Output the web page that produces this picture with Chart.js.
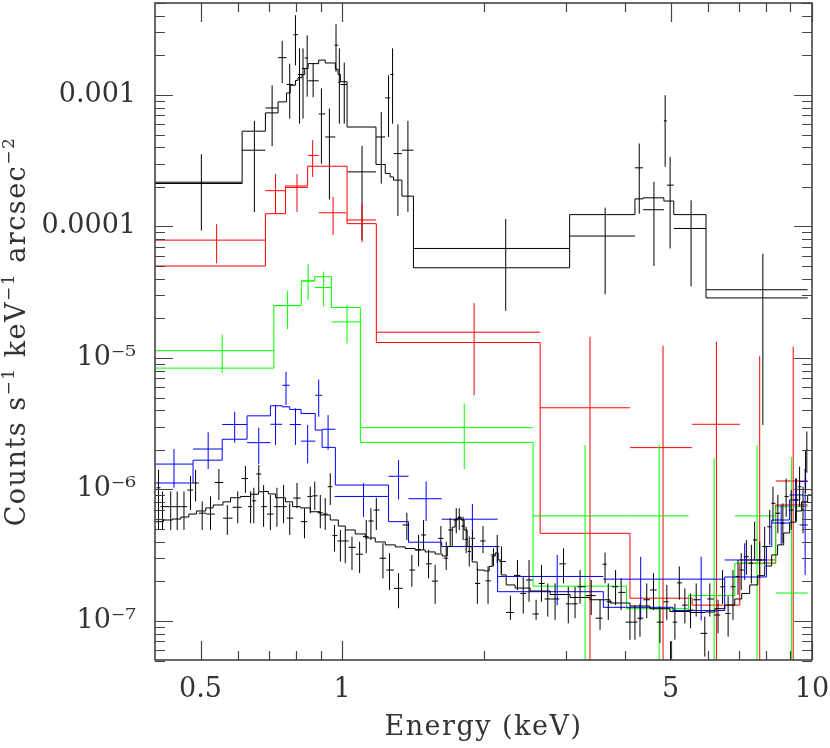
<!DOCTYPE html>
<html>
<head>
<meta charset="utf-8">
<title>Spectrum</title>
<script src="https://cdn.jsdelivr.net/npm/chart.js@4.4.0/dist/chart.umd.min.js"></script>
<style>
  html, body { margin: 0; padding: 0; background: #fff; }
</style>
</head>
<body>
<canvas id="spec" width="830" height="748"></canvas>
<script>
// ---- axis ticks ----
const xMajor = [0.5, 1, 5, 10];
const xMajorText = ['0.5', '1', '5', '10'];
const xMinor = [0.6, 0.7, 0.8, 0.9, 2, 3, 4, 6, 7, 8, 9];
const yMajor = [1e-7, 1e-6, 1e-5, 1e-4, 1e-3];
const yMajorText = ['10\u207B\u2077', '10\u207B\u2076', '10\u207B\u2075', '0.0001', '0.001'];

// ---- bright source, black ----
const blkE = [0.502, 0.651, 0.710, 0.746, 0.774, 0.796, 0.812, 0.826, 0.843, 0.868, 0.904, 0.940, 0.971, 0.987, 1.011, 1.103, 1.212, 1.256, 1.281, 1.315, 1.381, 2.23, 3.63, 4.29, 4.61, 4.87, 4.99, 5.53, 7.86];
const blkELo = [0.37, 0.612, 0.687, 0.731, 0.762, 0.788, 0.806, 0.822, 0.833, 0.847, 0.892, 0.921, 0.964, 0.981, 0.992, 1.025, 1.181, 1.236, 1.266, 1.287, 1.341, 1.415, 3.05, 4.2, 4.37, 4.84, 4.91, 5.08, 5.95];
const blkEHi = [0.612, 0.687, 0.731, 0.762, 0.788, 0.806, 0.822, 0.833, 0.847, 0.892, 0.921, 0.968, 0.981, 0.992, 1.025, 1.181, 1.236, 1.266, 1.287, 1.341, 1.419, 3.05, 4.2, 4.37, 4.84, 4.91, 5.08, 5.95, 9.79];
const blkY = [2.17e-4, 3.8e-4, 7.96e-4, 1.92e-3, 1.2e-3, 2.87e-3, 1.43e-3, 1.59e-3, 1.91e-3, 1.28e-3, 7.17e-4, 4.79e-4, 2.39e-3, 1.25e-3, 1.2e-3, 2.6e-4, 4.79e-4, 9.5e-4, 1.43e-3, 3.58e-4, 3.8e-4, 6.8e-5, 8.45e-5, 2.79e-4, 1.34e-4, 6.35e-4, 2.06e-4, 9.65e-5, 3.3e-5];
const blkYHi = [3.54e-4, 6.35e-4, 1.185e-3, 2.58e-3, 1.73e-3, 4.04e-3, 2.26e-3, 2.26e-3, 2.84e-3, 1.74e-3, 1.12e-3, 7.87e-4, 3.45e-3, 2.26e-3, 1.76e-3, 4.1e-4, 7.42e-4, 1.41e-3, 2.26e-3, 5.96e-4, 6.35e-4, 1.14e-4, 1.39e-4, 4.27e-4, 2.18e-4, 9.95e-4, 3.38e-4, 1.58e-4, 6.2e-5];
const blkYLo = [9.3e-5, 1.29e-4, 4.07e-4, 1.23e-3, 6.6e-4, 1.68e-3, 6.05e-4, 6.6e-4, 9.7e-4, 9.6e-4, 3.0e-4, 1.6e-4, 1.5e-3, 6.05e-4, 6.05e-4, 7.87e-5, 2.12e-4, 4.79e-4, 6.05e-4, 1.2e-4, 1.29e-4, 2.28e-5, 3.05e-5, 1.25e-4, 5.0e-5, 2.84e-4, 6.8e-5, 3.5e-5, 3.09e-6];
const blkModelE = [0.38, 0.613, 0.687, 0.731, 0.762, 0.776, 0.796, 0.806, 0.822, 0.833, 0.847, 0.892, 0.921, 0.968, 0.981, 0.992, 1.025, 1.181, 1.236, 1.266, 1.287, 1.341, 1.419, 3.05, 4.2, 4.37, 4.84, 5.08, 5.95, 9.79];
const blkModelY = [2.12e-4, 5.3e-4, 7.3e-4, 8.85e-4, 1.035e-3, 1.185e-3, 1.29e-3, 1.35e-3, 1.43e-3, 1.59e-3, 1.73e-3, 1.84e-3, 1.75e-3, 1.57e-3, 1.43e-3, 1.26e-3, 5.7e-4, 2.96e-4, 2.53e-4, 2.38e-4, 2.25e-4, 1.70e-4, 4.85e-5, 1.23e-4, 1.62e-4, 1.65e-4, 1.56e-4, 1.23e-4, 2.86e-5];

// ---- red ----
const redE = [0.541, 0.722, 0.802, 0.866, 0.957, 1.103, 1.91, 3.37, 4.82, 6.26, 7.74, 9.12];
const redELo = [0.37, 0.687, 0.758, 0.847, 0.892, 1.021, 1.183, 2.64, 4.099, 5.56, 7.02, 8.37];
const redEHi = [0.687, 0.758, 0.847, 0.892, 1.021, 1.181, 2.64, 4.099, 5.56, 7.02, 8.37, 9.79];
const redY = [7.87e-5, 1.87e-4, 1.98e-4, 3.47e-4, 1.27e-4, 1.12e-4, 1.57e-5, 4.18e-6, 2.08e-6, 3.13e-6, 2.91e-7, 1.16e-6];
const redYHi = [1.04e-4, 2.5e-4, 2.5e-4, 4.53e-4, 1.68e-4, 1.5e-4, 2.61e-5, 1.45e-5, 1.24e-5, 1.33e-5, 1.03e-5, 1.22e-5];
const redYLo = [5.25e-5, 1.25e-4, 1.29e-4, 2.38e-4, 8.6e-5, 7.6e-5, 5.2e-6, 1e-9, 1e-9, 1e-9, 1e-9, 1e-9];
const redModelE = [0.38, 0.687, 0.758, 0.845, 1.025, 1.183, 2.64, 4.099, 5.56, 7.02, 8.37, 9.79];
const redModelY = [5.0e-5, 1.25e-4, 2.03e-4, 2.87e-4, 1.05e-4, 1.31e-5, 4.64e-7, 1.49e-7, 1.32e-7, 2.75e-7, 7.62e-7];

// ---- green ----
const grnE = [0.556, 0.766, 0.847, 0.914, 1.025, 1.82, 3.29, 4.73, 6.19, 7.64, 9.05];
const grnELo = [0.37, 0.716, 0.819, 0.875, 0.949, 1.097, 2.55, 4.03, 5.46, 6.85, 8.37];
const grnEHi = [0.716, 0.819, 0.875, 0.949, 1.094, 2.55, 4.03, 5.46, 6.85, 8.37, 9.79];
const grnY = [1.135e-5, 2.5e-5, 3.85e-5, 3.43e-5, 1.88e-5, 2.95e-6, 6.3e-7, 6.3e-7, 3e-8, 6.3e-7, 1.63e-7];
const grnYHi = [1.51e-5, 3.25e-5, 5.15e-5, 4.53e-5, 2.52e-5, 4.5e-6, 2.18e-6, 2.18e-6, 1.72e-6, 2.18e-6, 1.76e-6];
const grnYLo = [7.7e-6, 1.66e-5, 2.75e-5, 2.46e-5, 1.29e-5, 1.43e-6, 1e-9, 1e-9, 1e-9, 1e-9, 1e-9];
const grnModelE = [0.38, 0.716, 0.819, 0.875, 0.949, 1.094, 2.55, 4.03, 5.46, 6.85, 8.37, 9.79];
const grnModelY = [8.37e-6, 2.5e-5, 3.85e-5, 4.15e-5, 2.42e-5, 2.28e-6, 1.84e-7, 1.24e-7, 1.56e-7, 2.75e-7, 7.4e-7];

// ---- blue ----
const bluE = [0.439, 0.519, 0.591, 0.665, 0.722, 0.760, 0.796, 0.845, 0.892, 0.934, 1.111, 1.319, 1.51, 1.894, 2.87, 4.32, 5.81, 7.19, 8.60, 9.23, 9.67];
const bluELo = [0.37, 0.482, 0.556, 0.628, 0.704, 0.746, 0.774, 0.818, 0.877, 0.907, 0.964, 1.256, 1.385, 1.630, 2.143, 3.598, 5.06, 6.52, 8.21, 8.96, 9.41];
const bluEHi = [0.482, 0.556, 0.628, 0.704, 0.746, 0.774, 0.818, 0.877, 0.907, 0.968, 1.256, 1.385, 1.630, 2.143, 3.598, 5.06, 6.52, 8.0, 8.96, 9.55, 9.79];
const bluY = [1.56e-6, 2.03e-6, 3.12e-6, 2.27e-6, 3.13e-6, 6.2e-6, 3.12e-6, 2.33e-6, 5.2e-6, 2.87e-6, 8.85e-7, 1.26e-6, 8.5e-7, 5.94e-7, 2.18e-7, 2.08e-7, 2.08e-7, 2.91e-7, 5.56e-7, 9.08e-7, 5.37e-7];
const bluYHi = [2.03e-6, 2.72e-6, 3.9e-6, 2.95e-6, 4.39e-6, 7.85e-6, 4.14e-6, 3.09e-6, 6.85e-6, 3.68e-6, 1.12e-6, 1.67e-6, 1.15e-6, 7.76e-7, 3.18e-7, 3.08e-7, 3.08e-7, 3.9e-7, 7.62e-7, 1.22e-6, 1.41e-6];
const bluYLo = [1.03e-6, 1.43e-6, 2.27e-6, 1.56e-6, 2.18e-6, 4.39e-6, 2.18e-6, 1.58e-6, 3.57e-6, 2.0e-6, 6.2e-7, 8.4e-7, 5.76e-7, 3.47e-7, 1.32e-7, 1.02e-7, 1.01e-7, 2.05e-7, 3.79e-7, 5.86e-7, 2.24e-7];
const bluModelE = [0.38, 0.482, 0.556, 0.628, 0.704, 0.746, 0.774, 0.818, 0.877, 0.907, 0.968, 1.256, 1.385, 1.630, 2.143, 3.598, 5.06, 6.52, 8.0, 8.21, 8.96, 9.41, 9.79];
const bluModelY = [1.12e-6, 1.67e-6, 2.41e-6, 3.63e-6, 4.33e-6, 4.25e-6, 4.06e-6, 3.78e-6, 2.83e-6, 2.09e-6, 1.08e-6, 5.69e-7, 3.97e-7, 3.68e-7, 1.67e-7, 1.27e-7, 1.2e-7, 2.16e-7, 3.68e-7, 5.86e-7, 8.32e-7, 1.15e-6];

// ---- faint, finely binned black spectrum ----
const fntE = [0.407, 0.415, 0.432, 0.446, 0.461, 0.476, 0.488, 0.504, 0.525, 0.547,
  0.570, 0.600, 0.623, 0.639, 0.649, 0.665, 0.681, 0.704, 0.727, 0.751,
  0.774, 0.802, 0.832, 0.856, 0.875, 0.899, 0.921, 0.944, 0.964, 0.992,
  1.016, 1.05, 1.09, 1.126, 1.152, 1.183, 1.222, 1.262, 1.319, 1.374,
  1.408, 1.455, 1.491, 1.528, 1.578, 1.623, 1.666, 1.699, 1.75, 1.776,
  1.81, 1.837, 1.865, 1.895, 1.941, 1.995, 2.045, 2.1, 2.139, 2.184,
  2.282, 2.362, 2.43, 2.5, 2.588, 2.657, 2.74, 2.84, 2.96, 3.03,
  3.132, 3.21, 3.39, 3.54, 3.628, 3.686, 3.82, 3.925, 4.099, 4.2,
  4.305, 4.45, 4.6, 4.747, 4.91, 5.0, 5.108, 5.22, 5.364, 5.515,
  5.67, 5.915, 6.061, 6.31, 6.45, 6.63, 6.79, 6.96, 7.07, 7.25,
  7.43, 7.55, 7.74, 7.93, 8.13, 8.26, 8.46, 8.67, 8.81, 9.03,
  9.26, 9.41, 9.57, 9.69, 9.75];
const fntY = [1.03e-6, 7.4e-7, 7.4e-7, 7.4e-7, 7.4e-7, 9.9e-7, 1.12e-6, 6.6e-7, 6.5e-7, 1.13e-6,
  6.05e-7, 7.32e-7, 1.21e-6, 7.4e-7, 8.2e-7, 1.31e-6, 7.4e-7, 6.5e-7, 7.4e-7, 7.4e-7,
  6.05e-7, 8.6e-7, 5.69e-7, 8.85e-7, 8.95e-7, 6.66e-7, 6.5e-7, 1.05e-6, 4.46e-7, 4.06e-7,
  4.06e-7, 3.63e-7, 3.22e-7, 4.38e-7, 5.76e-7, 6.98e-7, 3.0e-7, 2.44e-7, 1.77e-7, 5.37e-7,
  2.44e-7, 3.47e-7, 4.51e-7, 2.72e-7, 2.01e-7, 4.25e-7, 3.0e-7, 4.92e-7, 5.86e-7, 6.05e-7,
  5.27e-7, 4.18e-7, 3.37e-7, 4.25e-7, 1.93e-7, 4.06e-7, 2.02e-7, 3.18e-7, 3.68e-7, 2.83e-7,
  1.16e-7, 2.22e-7, 1.62e-7, 2.05e-7, 1.13e-7, 1.93e-7, 1.47e-7, 1.47e-7, 2.72e-7, 1.35e-7,
  1.35e-7, 1.82e-7, 1.56e-7, 1.05e-7, 2.7e-7, 1.4e-7, 1.82e-7, 1.65e-7, 9.8e-8, 9.8e-8,
  1.05e-7, 1.45e-7, 1.72e-7, 9.8e-8, 1.4e-7, 4.2e-8, 9.8e-8, 1.95e-7, 1.32e-7, 1.21e-7,
  1.45e-7, 8.05e-8, 1.47e-7, 1.11e-7, 1.82e-7, 1.14e-7, 1.82e-7, 2.18e-7, 2.44e-7, 3.08e-7,
  2.75e-7, 4.13e-7, 2.91e-7, 3.68e-7, 5.2e-7, 7.85e-7, 6.6e-7, 5.53e-7, 8.85e-7, 6.98e-7,
  8.32e-7, 1.05e-6, 6.98e-7, 1.41e-6, 2.0e-6];
const fntYHi = [1.41e-6, 9.66e-7, 9.66e-7, 9.66e-7, 9.66e-7, 1.27e-6, 1.41e-6, 8.1e-7, 8.85e-7, 1.43e-6,
  7.62e-7, 9.66e-7, 1.51e-6, 9.66e-7, 1.03e-6, 1.535e-6, 1.08e-6, 9.08e-7, 1.03e-6, 1.08e-6,
  7.85e-7, 1.12e-6, 7.2e-7, 1.05e-6, 1.15e-6, 9.08e-7, 8.6e-7, 1.33e-6, 5.37e-7, 4.92e-7,
  4.92e-7, 4.38e-7, 4.01e-7, 5.86e-7, 7.2e-7, 8.65e-7, 3.9e-7, 3.28e-7, 2.31e-7, 6.66e-7,
  3.18e-7, 4.51e-7, 5.86e-7, 3.47e-7, 2.67e-7, 5.27e-7, 4.01e-7, 6.05e-7, 7.2e-7, 7.2e-7,
  6.2e-7, 5.2e-7, 4.38e-7, 4.92e-7, 2.52e-7, 5.27e-7, 2.6e-7, 3.57e-7, 4.51e-7, 3.68e-7,
  1.56e-7, 2.91e-7, 2.18e-7, 2.91e-7, 1.45e-7, 2.67e-7, 1.93e-7, 1.93e-7, 3.57e-7, 1.82e-7,
  1.82e-7, 2.44e-7, 2.05e-7, 1.45e-7, 3.31e-7, 1.93e-7, 2.44e-7, 2.11e-7, 1.29e-7, 1.32e-7,
  1.35e-7, 1.93e-7, 2.31e-7, 1.29e-7, 1.88e-7, 7.0e-8, 1.35e-7, 2.6e-7, 1.77e-7, 1.62e-7,
  1.93e-7, 1.08e-7, 1.93e-7, 1.45e-7, 2.44e-7, 1.54e-7, 2.44e-7, 2.91e-7, 3.28e-7, 4.13e-7,
  3.79e-7, 5.69e-7, 4.01e-7, 5.2e-7, 6.98e-7, 1.05e-6, 9.08e-7, 7.85e-7, 1.21e-6, 9.9e-7,
  1.21e-6, 1.49e-6, 1.05e-6, 2.0e-6, 2.76e-6];
const fntYLo = [4.92e-7, 4.92e-7, 4.92e-7, 4.92e-7, 4.92e-7, 6.98e-7, 8.1e-7, 4.92e-7, 4.92e-7, 8.32e-7,
  4.51e-7, 5.53e-7, 9.4e-7, 5.53e-7, 5.53e-7, 9.66e-7, 5.2e-7, 4.92e-7, 5.2e-7, 5.53e-7,
  4.51e-7, 7.2e-7, 4.25e-7, 6.6e-7, 6.98e-7, 5.06e-7, 4.92e-7, 7.62e-7, 3.37e-7, 2.83e-7,
  2.75e-7, 2.44e-7, 2.31e-7, 3.28e-7, 4.13e-7, 4.92e-7, 2.11e-7, 1.72e-7, 1.25e-7, 4.13e-7,
  1.82e-7, 2.6e-7, 3.47e-7, 2.11e-7, 1.35e-7, 3.28e-7, 2.44e-7, 3.68e-7, 4.64e-7, 4.92e-7,
  4.13e-7, 3.28e-7, 2.6e-7, 2.91e-7, 1.35e-7, 3.28e-7, 1.35e-7, 2.6e-7, 2.75e-7, 2.31e-7,
  1.02e-7, 1.72e-7, 1.14e-7, 1.4e-7, 1.02e-7, 1.4e-7, 1.08e-7, 1.02e-7, 1.93e-7, 9.6e-8,
  1.05e-7, 1.35e-7, 1.11e-7, 8.55e-8, 1.93e-7, 1.02e-7, 1.32e-7, 1.21e-7, 7.2e-8, 7.2e-8,
  7.6e-8, 1.05e-7, 1.21e-7, 6.8e-8, 1.02e-7, 2.5e-8, 7.2e-8, 1.45e-7, 9.6e-8, 8.8e-8,
  1.08e-7, 5.36e-8, 1.08e-7, 8.05e-8, 1.35e-7, 7.6e-8, 1.02e-7, 1.58e-7, 1.72e-7, 2.24e-7,
  1.93e-7, 2.91e-7, 2.11e-7, 2.67e-7, 3.79e-7, 5.69e-7, 4.64e-7, 3.9e-7, 6.2e-7, 4.92e-7,
  5.69e-7, 7.4e-7, 4.64e-7, 9.4e-7, 1.34e-6];
const fntModelE = [0.38, 0.417, 0.436, 0.454, 0.472, 0.490, 0.513, 0.532, 0.558, 0.579,
  0.608, 0.639, 0.664, 0.677, 0.697, 0.722, 0.758, 0.785, 0.815, 0.856,
  0.899, 0.944, 0.982, 1.016, 1.067, 1.121, 1.177, 1.236, 1.298, 1.363,
  1.431, 1.503, 1.578, 1.634, 1.675, 1.716, 1.741, 1.767, 1.793, 1.819,
  1.846, 1.892, 1.939, 2.007, 2.056, 2.087, 2.118, 2.149, 2.181, 2.235,
  2.335, 2.513, 2.772, 3.057, 3.371, 3.717, 4.099, 4.520, 4.985, 5.497,
  5.915, 6.211, 6.522, 6.849, 7.088, 7.370, 7.666, 7.931, 8.207, 8.450,
  8.705, 8.962, 9.230, 9.504, 9.79, 10.0];
const fntModelY = [5.69e-7, 5.86e-7, 5.96e-7, 6.17e-7, 6.5e-7, 6.86e-7, 7.24e-7, 7.62e-7, 8.05e-7, 8.65e-7,
  8.85e-7, 9.2e-7, 9.6e-7, 9.66e-7, 9.25e-7, 8.65e-7, 8.05e-7, 7.4e-7, 7.24e-7, 6.77e-7,
  6.4e-7, 5.86e-7, 5.27e-7, 4.92e-7, 4.59e-7, 4.28e-7, 3.99e-7, 3.79e-7, 3.66e-7, 3.56e-7,
  3.47e-7, 3.35e-7, 3.23e-7, 3.12e-7, 3.68e-7, 5.18e-7, 5.96e-7, 6.17e-7, 5.86e-7, 4.92e-7,
  3.68e-7, 2.81e-7, 2.44e-7, 2.40e-7, 2.60e-7, 3.12e-7, 3.29e-7, 2.91e-7, 2.24e-7, 1.88e-7,
  1.78e-7, 1.69e-7, 1.59e-7, 1.51e-7, 1.45e-7, 1.37e-7, 1.30e-7, 1.24e-7, 1.18e-7, 1.16e-7,
  1.17e-7, 1.24e-7, 1.32e-7, 1.47e-7, 1.62e-7, 1.88e-7, 2.21e-7, 2.62e-7, 3.18e-7, 3.79e-7,
  4.67e-7, 5.64e-7, 6.86e-7, 8.05e-7, 9.08e-7];

// faint bins are contiguous: edges halfway (in log) between neighbouring centres
const fntELo = fntE.map((e, i) => i === 0 ? e * e / Math.sqrt(e * fntE[1]) : Math.sqrt(e * fntE[i - 1]));
const fntEHi = fntE.map((e, i) => i === fntE.length - 1 ? e * e / Math.sqrt(e * fntE[i - 1]) : Math.sqrt(e * fntE[i + 1]));

function crosses(cx, lo, hi, y, ylo, yhi) {
    const pts = [];
    for (let i = 0; i < cx.length; i++) {
        pts.push({x: lo[i], y: y[i]}, {x: hi[i], y: y[i]}, {x: cx[i], y: null});
        pts.push({x: cx[i], y: ylo[i]}, {x: cx[i], y: yhi[i]}, {x: cx[i], y: null});
    }
    return pts;
}

// value i holds from edge i to edge i+1
function steps(edges, vals) {
    const pts = vals.map((v, i) => ({x: edges[i], y: v}));
    pts.push({x: edges[edges.length - 1], y: vals[vals.length - 1]});
    return pts;
}

function errSet(color, pts) {
    return {data: pts, borderColor: color, borderWidth: 1, pointRadius: 0, spanGaps: false, fill: false};
}
function modelSet(color, pts) {
    return {data: pts, borderColor: color, borderWidth: 1, pointRadius: 0, stepped: 'before', fill: false};
}

const FONT = "'DejaVu Serif', 'Liberation Serif', serif";
const TEXT = '#333';

function sameValue(a, b) {
    return Math.abs(Math.log10(a) - Math.log10(b)) < 1e-6;
}

const yMinor = [];
[-8, -7, -6, -5, -4, -3].forEach(p => {
    for (let k = 2; k <= 9; k++) {
        const v = k * Math.pow(10, p);
        if (v >= 5e-8 && v <= 5e-3) yMinor.push(v);
    }
});

// frame, inward tick marks and axis titles
const decorations = {
    id: 'decorations',
    afterDatasetsDraw(chart) {
        const {ctx, chartArea: a} = chart;
        const xs = chart.scales.x, ys = chart.scales.y;
        ctx.save();
        ctx.strokeStyle = '#444';
        ctx.lineWidth = 1.2;
        ctx.beginPath();
        const xMark = (v, len) => {
            const p = Math.round(xs.getPixelForValue(v)) + 0.5;
            ctx.moveTo(p, a.bottom); ctx.lineTo(p, a.bottom - len);
            ctx.moveTo(p, a.top); ctx.lineTo(p, a.top + len);
        };
        const yMark = (v, len) => {
            const p = Math.round(ys.getPixelForValue(v)) + 0.5;
            ctx.moveTo(a.left, p); ctx.lineTo(a.left + len, p);
            ctx.moveTo(a.right, p); ctx.lineTo(a.right - len, p);
        };
        xMajor.forEach(v => xMark(v, 19));
        xMinor.forEach(v => xMark(v, 9));
        yMajor.forEach(v => yMark(v, 18));
        yMinor.forEach(v => yMark(v, 10));
        ctx.stroke();
        ctx.lineWidth = 1.6;
        ctx.strokeRect(a.left, a.top, a.right - a.left, a.bottom - a.top);
        ctx.restore();

        // axis titles
        ctx.save();
        ctx.fillStyle = TEXT;
        ctx.textBaseline = 'alphabetic';
        if ('letterSpacing' in ctx) ctx.letterSpacing = '1.5px';
        drawRich(ctx, [['Energy (keV)', 0]], (a.left + a.right) / 2, 735, 27);
        ctx.translate(25, (a.top + a.bottom) / 2);
        ctx.rotate(-Math.PI / 2);
        drawRich(ctx, [['Counts s', 0], ['\u22121', 1], [' keV', 0], ['\u22121', 1], [' arcsec', 0], ['\u22122', 1]], 0, 0, 27);
        ctx.restore();
    }
};

function drawRich(ctx, parts, cx, base, size) {
    const small = Math.round(size * 0.62);
    let total = 0;
    parts.forEach(([t, sup]) => {
        ctx.font = (sup ? small : size) + 'px ' + FONT;
        total += ctx.measureText(t).width;
    });
    let x = cx - total / 2;
    ctx.textAlign = 'left';
    parts.forEach(([t, sup]) => {
        ctx.font = (sup ? small : size) + 'px ' + FONT;
        ctx.fillText(t, x, sup ? base - size * 0.42 : base);
        x += ctx.measureText(t).width;
    });
}

const ctx = document.getElementById('spec').getContext('2d');
new Chart(ctx, {
    type: 'line',
    data: {
        datasets: [
            errSet('#000000', crosses(fntE, fntELo, fntEHi, fntY, fntYLo, fntYHi)),
            modelSet('#000000', steps(fntModelE, fntModelY)),
            errSet('#0000ff', crosses(bluE, bluELo, bluEHi, bluY, bluYLo, bluYHi)),
            modelSet('#0000ff', steps(bluModelE, bluModelY)),
            errSet('#00ff00', crosses(grnE, grnELo, grnEHi, grnY, grnYLo, grnYHi)),
            modelSet('#00ff00', steps(grnModelE, grnModelY)),
            errSet('#ff0000', crosses(redE, redELo, redEHi, redY, redYLo, redYHi)),
            modelSet('#ff0000', steps(redModelE, redModelY)),
            errSet('#000000', crosses(blkE, blkELo, blkEHi, blkY, blkYLo, blkYHi)),
            modelSet('#000000', steps(blkModelE, blkModelY))
        ]
    },
    options: {
        responsive: false,
        animation: false,
        devicePixelRatio: 1,
        layout: {padding: {left: 0, right: 18, top: 3, bottom: 0}},
        plugins: {legend: {display: false}, tooltip: {enabled: false}},
        elements: {line: {tension: 0}},
        scales: {
            x: {
                type: 'logarithmic',
                min: 0.4,
                max: 10,
                grid: {display: false, drawTicks: false},
                border: {display: false},
                afterBuildTicks: scale => {
                    scale.ticks = [...xMajor, ...xMinor].sort((p, q) => p - q).map(v => ({value: v}));
                },
                afterFit: scale => {
                    scale.height = 88;
                    scale.paddingLeft = 0;
                    scale.paddingRight = 0;
                },
                ticks: {
                    autoSkip: false,
                    maxRotation: 0,
                    padding: 14,
                    color: TEXT,
                    font: {family: FONT, size: 27},
                    callback: value => {
                        const i = xMajor.findIndex(v => sameValue(v, value));
                        return i >= 0 ? xMajorText[i] : '';
                    }
                }
            },
            y: {
                type: 'logarithmic',
                min: 5.05e-8,
                max: 5e-3,
                grid: {display: false, drawTicks: false},
                border: {display: false},
                afterBuildTicks: scale => {
                    scale.ticks = [...yMajor, ...yMinor].sort((p, q) => p - q).map(v => ({value: v}));
                },
                afterFit: scale => {
                    scale.width = 155;
                    scale.paddingTop = 0;
                    scale.paddingBottom = 0;
                },
                ticks: {
                    autoSkip: false,
                    padding: 19,
                    color: TEXT,
                    font: {family: FONT, size: 27},
                    callback: value => {
                        const i = yMajor.findIndex(v => sameValue(v, value));
                        return i >= 0 ? yMajorText[i] : '';
                    }
                }
            }
        }
    },
    plugins: [decorations]
});
</script>
</body>
</html>
